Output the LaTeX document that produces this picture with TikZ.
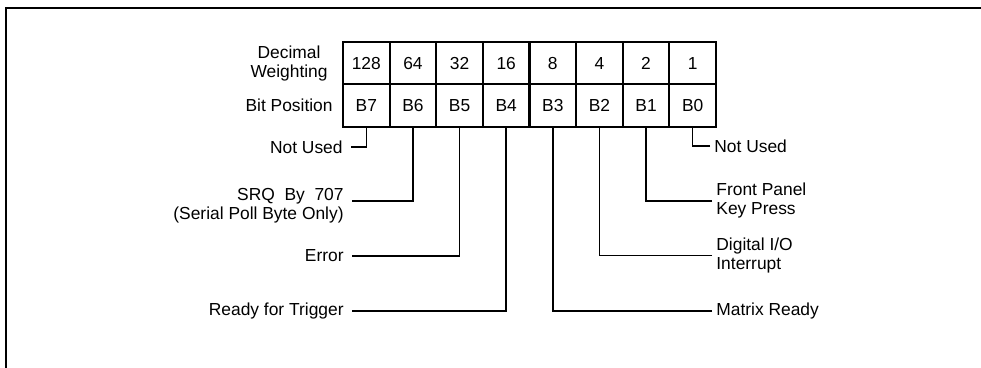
\documentclass[tikz,border=0pt]{standalone}
\usepackage{fontspec}
\setmainfont{Liberation Sans}
\usetikzlibrary{positioning}
\tikzset{
  cell/.style={draw, line width=1pt, minimum width=23.3pt, minimum height=21.25pt,
    inner sep=0pt, anchor=north west, font=\fontsize{8.7}{9.5}\selectfont},
  lbl/.style={font=\fontsize{8.7}{9.5}\selectfont, inner ysep=0pt},
  lleft/.style={lbl, align=right, anchor=east, inner xsep=4pt},
  lright/.style={lbl, align=left, anchor=west, inner xsep=2pt},
  wire/.style={line width=0.8pt}
}
\begin{document}
\begin{tikzpicture}[x=0.5pt, y=-0.5pt]
    \useasboundingbox (0,0) rectangle (981,368);
    % Frame (open at right and bottom)
    \draw[line width=1pt] (981,8) -- (6,8) -- (6,368);

    % Register: weights on top, bit positions below
    \foreach \w [count=\i from 0] in {128,64,32,16,8,4,2,1} {
        \pgfmathtruncatemacro{\bit}{7-\i}
        \node[cell] (w\bit) at (342+\i*46.625, 41) {\w};
        \node[cell] (b\bit) at (342+\i*46.625, 83.5) {B\bit};
    }
    \node[lbl, inner xsep=0pt, left=4.5pt of b7] (bitpos) {Bit Position};
    \node[lbl, inner xsep=0pt, align=center] (decw) at (bitpos |- w7) {Decimal\\Weighting};

    % Left side labels
    \node[lleft] (nu7) at (351,147) {Not Used};
    \node[lleft] (srq) at (352,206) {SRQ\ \ By\ \ 707\\(Serial Poll Byte Only)};
    \node[lleft] (err) at (352,256) {Error};
    \node[lleft] (trig) at (352,311) {Ready for Trigger};

    % Right side labels
    \node[lright] (nu0) at (710,146) {Not Used};
    \node[lright] (fp) at (712,201) {Front Panel\\Key Press};
    \node[lright] (dio) at (712,255.5) {Digital I/O\\Interrupt};
    \node[lright] (mr) at (712,311) {Matrix Ready};

    % Connectors
    \draw[wire] (nu7.east) -| (b7.south);
    \draw[wire] ([yshift=2.5pt]srq.east) -| (b6.south);
    \draw[wire] (err.east) -| (b5.south);
    \draw[wire] (trig.east) -| (b4.south);
    \draw[wire] (mr.west) -| (b3.south);
    \draw[wire] (dio.west) -| (b2.south);
    \draw[wire] (fp.west) -| (b1.south);
    \draw[wire] (nu0.west) -| (b0.south);
\end{tikzpicture}
\end{document}
